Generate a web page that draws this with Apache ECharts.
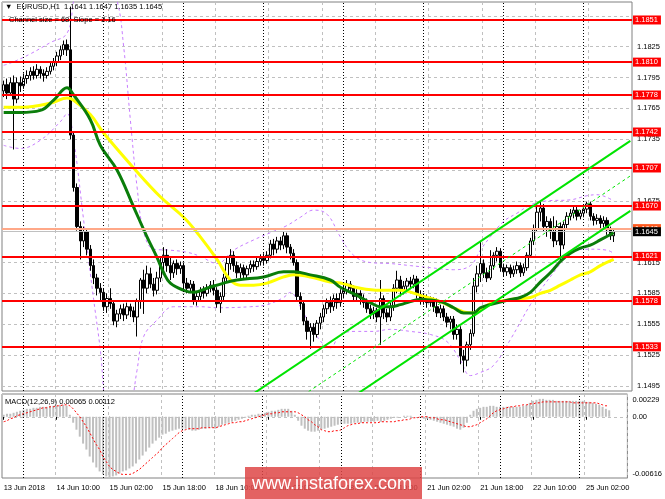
<!DOCTYPE html>
<html><head><meta charset="utf-8">
<script src="https://cdn.jsdelivr.net/npm/echarts@6/dist/echarts.min.js"></script>
<style>html,body{margin:0;padding:0;background:#fff}#c{width:665px;height:499px}</style>
</head><body><div id="c"></div>
<script>
// ---------- DATA ----------
const tradingDays = [['13 Jun',18,23],['14 Jun',0,23],['15 Jun',0,23],['18 Jun',0,23],['19 Jun',0,23],['20 Jun',0,23],['21 Jun',0,23],['22 Jun',0,23],['25 Jun',0,9]];
const emptySlots = 5;
const xTickLabels = ['13 Jun 2018','14 Jun 10:00','15 Jun 02:00','15 Jun 18:00','18 Jun 10:00','19 Jun 02:00','19 Jun 18:00','20 Jun 10:00','21 Jun 02:00','21 Jun 18:00','22 Jun 10:00','25 Jun 02:00'];
const daySeparators = [6,30,54,78,102,126,150,174];
const yGridTicks = [1.1495,1.1525,1.1555,1.1585,1.1615,1.1645,1.1675,1.1705,1.1735,1.1765,1.1795,1.1825,1.1855];
const yTickLabels = [1.1495,1.1525,1.1555,1.1585,1.1615,1.1645,1.1675,1.1705,1.1735,1.1765,1.1795,1.1825];
const levels = [1.1851,1.1810,1.1778,1.1742,1.1707,1.1670,1.1621,1.1578,1.1533];
const bidPrice = 1.1645;
const askPrice = 1.1648;
const macdTicks = [0.00229,0,-0.00616];

// [open, close, low, high]
const ohlc = [
[1.1782,1.1788,1.1776,1.1792],[1.1788,1.1780,1.1774,1.1794],[1.1780,1.1790,1.1777,1.1795],[1.1790,1.1774,1.1725,1.1797],
[1.1774,1.1790,1.1770,1.1795],[1.1790,1.1787,1.1781,1.1796],[1.1787,1.1794,1.1784,1.1799],[1.1794,1.1797,1.1789,1.1802],
[1.1797,1.1801,1.1792,1.1805],[1.1801,1.1797,1.1793,1.1806],[1.1797,1.1803,1.1794,1.1808],[1.1803,1.1799,1.1794,1.1806],
[1.1799,1.1797,1.1791,1.1803],[1.1797,1.1801,1.1794,1.1805],[1.1801,1.1806,1.1798,1.1810],[1.1806,1.1810,1.1802,1.1814],
[1.1810,1.1816,1.1806,1.1820],[1.1816,1.1822,1.1812,1.1826],[1.1822,1.1827,1.1817,1.1831],[1.1827,1.1822,1.1816,1.1832],
[1.1822,1.1739,1.1735,1.1864],[1.1739,1.1688,1.1684,1.1742],[1.1688,1.1650,1.1646,1.1692],[1.1650,1.1636,1.1618,1.1655],
[1.1636,1.1645,1.1630,1.1650],[1.1645,1.1628,1.1622,1.1648],[1.1628,1.1612,1.1607,1.1632],[1.1612,1.1600,1.1594,1.1618],
[1.1600,1.1590,1.1583,1.1604],[1.1590,1.1586,1.1578,1.1595],[1.1586,1.1572,1.1568,1.1590],[1.1572,1.1580,1.1566,1.1585],
[1.1580,1.1575,1.1570,1.1590],[1.1575,1.1558,1.1554,1.1578],[1.1558,1.1565,1.1552,1.1569],[1.1565,1.1570,1.1560,1.1574],
[1.1570,1.1564,1.1558,1.1575],[1.1564,1.1572,1.1560,1.1576],[1.1572,1.1568,1.1562,1.1575],[1.1568,1.1562,1.1557,1.1572],
[1.1562,1.1578,1.1543,1.1580],[1.1578,1.1598,1.1570,1.1600],[1.1598,1.1590,1.1565,1.1608],[1.1590,1.1604,1.1585,1.1612],
[1.1604,1.1594,1.1590,1.1610],[1.1594,1.1588,1.1582,1.1600],[1.1588,1.1600,1.1584,1.1606],[1.1600,1.1615,1.1596,1.1620],
[1.1615,1.1622,1.1605,1.1630],[1.1622,1.1612,1.1606,1.1628],[1.1612,1.1605,1.1598,1.1620],[1.1605,1.1614,1.1600,1.1617],
[1.1614,1.1609,1.1603,1.1618],[1.1609,1.1612,1.1604,1.1616],[1.1612,1.1595,1.1590,1.1615],[1.1595,1.1590,1.1585,1.1600],
[1.1590,1.1594,1.1586,1.1598],[1.1594,1.1578,1.1574,1.1597],[1.1578,1.1582,1.1573,1.1586],[1.1582,1.1588,1.1578,1.1591],
[1.1588,1.1585,1.1580,1.1592],[1.1585,1.1590,1.1582,1.1594],[1.1590,1.1593,1.1586,1.1597],[1.1593,1.1588,1.1583,1.1598],
[1.1588,1.1575,1.1571,1.1591],[1.1575,1.1582,1.1566,1.1586],[1.1582,1.1600,1.1578,1.1604],[1.1600,1.1614,1.1597,1.1620],
[1.1614,1.1622,1.1608,1.1628],[1.1622,1.1612,1.1606,1.1626],[1.1612,1.1605,1.1600,1.1616],[1.1605,1.1610,1.1600,1.1614],
[1.1610,1.1603,1.1598,1.1613],[1.1603,1.1609,1.1600,1.1612],[1.1609,1.1613,1.1605,1.1617],[1.1613,1.1611,1.1606,1.1617],
[1.1611,1.1616,1.1608,1.1620],[1.1616,1.1619,1.1612,1.1623],[1.1619,1.1617,1.1612,1.1624],[1.1617,1.1622,1.1614,1.1626],
[1.1622,1.1633,1.1619,1.1637],[1.1633,1.1628,1.1622,1.1638],[1.1628,1.1636,1.1624,1.1640],[1.1636,1.1632,1.1627,1.1640],
[1.1632,1.1641,1.1628,1.1645],[1.1641,1.1630,1.1624,1.1644],[1.1630,1.1624,1.1618,1.1633],[1.1624,1.1615,1.1612,1.1628],
[1.1615,1.1582,1.1578,1.1618],[1.1582,1.1575,1.1569,1.1586],[1.1575,1.1558,1.1554,1.1578],[1.1558,1.1548,1.1540,1.1562],
[1.1548,1.1552,1.1531,1.1556],[1.1552,1.1545,1.1538,1.1556],[1.1545,1.1556,1.1542,1.1559],[1.1556,1.1562,1.1550,1.1566],
[1.1562,1.1570,1.1557,1.1574],[1.1570,1.1576,1.1565,1.1580],[1.1576,1.1572,1.1566,1.1582],[1.1572,1.1580,1.1568,1.1584],
[1.1580,1.1576,1.1570,1.1585],[1.1576,1.1585,1.1572,1.1589],[1.1585,1.1588,1.1580,1.1593],[1.1588,1.1594,1.1584,1.1598],
[1.1594,1.1590,1.1585,1.1597],[1.1590,1.1582,1.1577,1.1593],[1.1582,1.1585,1.1578,1.1589],[1.1585,1.1580,1.1574,1.1588],
[1.1580,1.1576,1.1571,1.1584],[1.1576,1.1570,1.1566,1.1580],[1.1570,1.1565,1.1560,1.1574],[1.1565,1.1568,1.1560,1.1572],
[1.1568,1.1562,1.1557,1.1571],[1.1562,1.1580,1.1535,1.1598],[1.1580,1.1566,1.1560,1.1583],[1.1566,1.1562,1.1557,1.1570],
[1.1562,1.1572,1.1558,1.1576],[1.1572,1.1590,1.1568,1.1594],[1.1590,1.1598,1.1585,1.1607],[1.1598,1.1588,1.1582,1.1602],
[1.1588,1.1592,1.1584,1.1597],[1.1592,1.1597,1.1588,1.1600],[1.1597,1.1594,1.1589,1.1601],[1.1594,1.1599,1.1590,1.1603],
[1.1599,1.1584,1.1580,1.1602],[1.1584,1.1578,1.1574,1.1588],[1.1578,1.1581,1.1574,1.1585],[1.1581,1.1576,1.1571,1.1584],
[1.1576,1.1578,1.1572,1.1582],[1.1578,1.1572,1.1567,1.1581],[1.1572,1.1566,1.1562,1.1580],[1.1566,1.1570,1.1561,1.1574],
[1.1570,1.1562,1.1558,1.1573],[1.1562,1.1557,1.1552,1.1566],[1.1557,1.1560,1.1550,1.1563],[1.1560,1.1545,1.1540,1.1563],
[1.1545,1.1550,1.1540,1.1555],[1.1550,1.1524,1.1516,1.1553],[1.1524,1.1520,1.1508,1.1530],[1.1520,1.1535,1.1514,1.1538],
[1.1535,1.1546,1.1530,1.1550],[1.1546,1.1592,1.1543,1.1600],[1.1592,1.1604,1.1586,1.1612],[1.1604,1.1614,1.1596,1.1636],
[1.1614,1.1605,1.1600,1.1618],[1.1605,1.1600,1.1596,1.1610],[1.1600,1.1612,1.1598,1.1627],[1.1612,1.1622,1.1608,1.1625],
[1.1622,1.1626,1.1616,1.1630],[1.1626,1.1610,1.1606,1.1629],[1.1610,1.1606,1.1601,1.1614],[1.1606,1.1610,1.1602,1.1613],
[1.1610,1.1604,1.1600,1.1613],[1.1604,1.1608,1.1601,1.1612],[1.1608,1.1612,1.1604,1.1616],[1.1612,1.1605,1.1601,1.1615],
[1.1605,1.1610,1.1602,1.1614],[1.1610,1.1622,1.1607,1.1625],[1.1622,1.1636,1.1620,1.1639],[1.1636,1.1648,1.1632,1.1652],
[1.1648,1.1664,1.1645,1.1670],[1.1664,1.1668,1.1655,1.1675],[1.1668,1.1650,1.1645,1.1672],[1.1650,1.1655,1.1640,1.1660],
[1.1655,1.1645,1.1638,1.1658],[1.1645,1.1636,1.1630,1.1660],[1.1636,1.1650,1.1632,1.1656],[1.1650,1.1632,1.1617,1.1654],
[1.1632,1.1652,1.1628,1.1655],[1.1652,1.1660,1.1648,1.1664],[1.1660,1.1663,1.1656,1.1667],[1.1663,1.1666,1.1658,1.1669],
[1.1666,1.1660,1.1656,1.1669],[1.1660,1.1663,1.1657,1.1666],[1.1663,1.1667,1.1659,1.1670],[1.1667,1.1672,1.1663,1.1674],
[1.1672,1.1660,1.1656,1.1674],[1.1660,1.1656,1.1651,1.1663],[1.1656,1.1658,1.1652,1.1662],[1.1658,1.1653,1.1648,1.1661],
[1.1653,1.1656,1.1649,1.1660],[1.1656,1.1647,1.1642,1.1659],[1.1647,1.1641,1.1637,1.1650],[1.1641,1.1645,1.1635,1.1647]
];

// moving averages read at [bar, price]
const maGreen = [[0,1.1761],[5,1.1761],[11,1.1763],[15,1.1773],[19,1.1785],[21,1.1778],[26,1.1754],[29,1.1729],[34,1.1705],[39,1.1669],[43,1.1640],[46,1.1620],[48,1.1605],[50,1.1595],[54,1.1588],[57,1.1586],[61,1.1590],[66,1.1595],[70,1.1598],[78,1.1601],[84,1.1606],[87,1.1606],[92,1.1603],[98,1.1598],[101,1.1591],[106,1.1583],[110,1.1576],[113,1.1572],[116,1.1572],[119,1.1574],[122,1.1577],[125,1.1579],[131,1.1577],[135,1.1571],[138,1.1566],[141,1.1566],[143,1.1571],[146,1.1574],[152,1.1579],[155,1.1581],[158,1.1586],[161,1.1596],[164,1.1605],[167,1.1616],[170,1.1624],[173,1.1629],[176,1.1632],[179,1.1637],[183,1.1644]];
const maYellow = [[0,1.1766],[5,1.1766],[11,1.1768],[15,1.1771],[19,1.1775],[21,1.1773],[26,1.1759],[30,1.1741],[39,1.1707],[47,1.1679],[54,1.1659],[59,1.1640],[64,1.1618],[68,1.1598],[71,1.1593],[75,1.1593],[79,1.1595],[84,1.1601],[87,1.1603],[92,1.1601],[98,1.1596],[101,1.1595],[107,1.1590],[113,1.1588],[119,1.1588],[125,1.1583],[131,1.1577],[135,1.1571],[138,1.1567],[141,1.1566],[143,1.1569],[146,1.1575],[152,1.1579],[158,1.1581],[161,1.1585],[164,1.1588],[167,1.1593],[170,1.1598],[173,1.1603],[176,1.1606],[179,1.1612],[183,1.1618]];
const bbUpper = [[0,1.1807],[2,1.1809],[8,1.1818],[14,1.1829],[19,1.1838],[21,1.1870],[23,1.1900],[30,1.1900],[34,1.1870],[36,1.1825],[38,1.1754],[40,1.1689],[42,1.1645],[45,1.1628],[50,1.1627],[55,1.1625],[59,1.1621],[64,1.1614],[69,1.1627],[75,1.1637],[80,1.1644],[85,1.1651],[89,1.1659],[93,1.1666],[97,1.1662],[101,1.1640],[105,1.1622],[110,1.1615],[116,1.1614],[122,1.1612],[128,1.1610],[135,1.1608],[140,1.1612],[143,1.1627],[146,1.1640],[150,1.1655],[154,1.1663],[158,1.1671],[163,1.1675],[170,1.1676],[175,1.1680],[178,1.1681],[183,1.1675]];
const bbLower = [[0,1.1729],[5,1.1726],[11,1.1734],[17,1.1752],[19,1.1760],[21,1.1734],[24,1.1656],[27,1.1579],[29,1.1530],[31,1.1470],[35,1.1440],[38,1.1470],[40,1.1510],[42,1.1543],[46,1.1559],[51,1.1572],[59,1.1572],[64,1.1571],[74,1.1572],[79,1.1574],[84,1.1581],[86,1.1586],[89,1.1572],[94,1.1543],[98,1.1532],[101,1.1545],[106,1.1548],[111,1.1548],[116,1.1550],[122,1.1548],[128,1.1545],[133,1.1538],[137,1.1520],[140,1.1505],[143,1.1508],[147,1.1515],[152,1.1540],[158,1.1574],[161,1.1588],[167,1.1614],[170,1.1626],[176,1.1628],[181,1.1627],[183,1.1624]];
// regression channel endpoints [bar, price]
const chanUpper = [[75,1.14876],[188,1.17333]];
const chanMiddle = [[75,1.14536],[188,1.16993]];
const chanLower = [[75,1.14196],[188,1.16653]];

const macdHist = [0.0002,0.0003,0.0003,0.0004,0.0005,0.0006,0.0007,0.0008,0.0008,0.0009,
0.0009,0.0010,0.0010,0.0010,0.0011,0.0011,0.0011,0.0012,0.0012,0.0011,
0.0002,-0.0006,-0.0013,-0.0020,-0.0027,-0.0033,-0.0040,-0.0046,-0.0051,-0.0055,
-0.0058,-0.0060,-0.0061,-0.0060,-0.0059,-0.0057,-0.0055,-0.0054,-0.0052,-0.0050,
-0.0047,-0.0043,-0.0039,-0.0035,-0.0031,-0.0027,-0.0024,-0.0021,-0.0018,-0.0017,
-0.0015,-0.0014,-0.0013,-0.0012,-0.0012,-0.0012,-0.0013,-0.0014,-0.0014,-0.0013,
-0.0012,-0.0012,-0.0011,-0.0011,-0.0012,-0.0010,-0.0008,-0.0007,-0.0006,-0.0005,
-0.0004,-0.0003,-0.0002,-0.0001,0.0001,0.0002,0.0002,0.0003,0.0003,0.0004,
0.0005,0.0006,0.0006,0.0007,0.0008,0.0008,0.0008,0.0006,0.0002,-0.0004,
-0.0009,-0.0012,-0.0014,-0.0015,-0.0015,-0.0014,-0.0013,-0.0012,-0.0011,-0.0010,
-0.0009,-0.0008,-0.0007,-0.0007,-0.0007,-0.0007,-0.0006,-0.0006,-0.0006,-0.0005,
-0.0005,-0.0005,-0.0005,-0.0004,-0.0005,-0.0004,-0.0003,-0.0002,-0.0001,-0.0001,
0.0000,0.0001,0.0001,0.0001,0.0000,0.0000,-0.0001,-0.0002,-0.0002,-0.0003,
-0.0004,-0.0005,-0.0006,-0.0007,-0.0008,-0.0009,-0.0010,-0.0012,-0.0013,-0.0011,
-0.0006,0.0002,0.0006,0.0008,0.0009,0.0010,0.0010,0.0011,0.0011,0.0010,
0.0010,0.0010,0.0010,0.0010,0.0010,0.0010,0.0010,0.0011,0.0012,0.0014,
0.0016,0.0017,0.0018,0.0018,0.0017,0.0017,0.0017,0.0016,0.0016,0.0016,
0.0016,0.0016,0.0016,0.0016,0.0016,0.0016,0.0015,0.0015,0.0014,0.0013,
0.0012,0.0010,0.0008,0.00065];
const macdSignal = [-0.0005,-0.0004,-0.0002,-0.0001,0.0001,0.0002,0.0003,0.0004,0.0005,0.0006,
0.0007,0.0008,0.0009,0.0009,0.0010,0.0010,0.0011,0.0011,0.0012,0.0012,
0.0011,0.0008,0.0004,0.0000,-0.0005,-0.0010,-0.0016,-0.0022,-0.0028,-0.0033,
-0.0040,-0.0045,-0.0050,-0.0053,-0.0055,-0.0057,-0.0058,-0.0058,-0.0058,-0.0057,
-0.0055,-0.0053,-0.0050,-0.0047,-0.0044,-0.0041,-0.0038,-0.0035,-0.0031,-0.0028,
-0.0025,-0.0022,-0.0019,-0.0016,-0.0014,-0.0013,-0.0012,-0.0012,-0.0012,-0.0012,
-0.0011,-0.0011,-0.0011,-0.0011,-0.0011,-0.0010,-0.0009,-0.0008,-0.0007,-0.0006,
-0.0006,-0.0005,-0.0005,-0.0004,-0.0003,-0.0002,-0.0001,0.0000,0.0001,0.0002,
0.0003,0.0003,0.0004,0.0004,0.0005,0.0005,0.0005,0.0005,0.0005,0.0004,
0.0002,0.0000,-0.0003,-0.0005,-0.0008,-0.0010,-0.0013,-0.0014,-0.0015,-0.0015,
-0.0014,-0.0014,-0.0013,-0.0011,-0.0009,-0.0008,-0.0007,-0.0007,-0.0006,-0.0006,
-0.0006,-0.0006,-0.0006,-0.0006,-0.0005,-0.0005,-0.0005,-0.0005,-0.0005,-0.0004,
-0.0004,-0.0003,-0.0003,-0.0002,-0.0001,-0.0001,0.0000,0.0000,0.0000,-0.0001,
-0.0001,-0.0002,-0.0003,-0.0003,-0.0004,-0.0005,-0.0006,-0.0007,-0.0008,-0.0009,
-0.0010,-0.0010,-0.0009,-0.0008,-0.0006,-0.0004,-0.0002,0.0001,0.0004,0.0006,
0.0007,0.0008,0.0009,0.0010,0.0010,0.0011,0.0011,0.0012,0.0012,0.0013,
0.0013,0.0014,0.0014,0.0015,0.0015,0.0015,0.0015,0.0015,0.0015,0.0015,
0.0015,0.0015,0.0014,0.0014,0.0014,0.0014,0.0014,0.0014,0.0014,0.0014,
0.0013,0.0012,0.0011,0.00112];

// ---------- BUILD ----------
const categories = [];
tradingDays.forEach(([d, h0, h1]) => { for (let h = h0; h <= h1; h++) categories.push(d + ' ' + String(h).padStart(2,'0') + ':00'); });
for (let k = 0; k < emptySlots; k++) categories.push('pad' + k);

const FONT = '"Liberation Sans", "DejaVu Sans", Arial, sans-serif';
const FS = 7.5;
const labelEvery = 16;
const isLabelTick = (i) => i % labelEvery === 0 && i < ohlc.length;

const chart = echarts.init(document.getElementById('c'), null, {renderer: 'canvas'});

function hLines(values, color, width, labelBg, z) {
  return {
    type: 'line', xAxisIndex: 0, yAxisIndex: 0, data: [], z: z, silent: true,
    markLine: {
      silent: true, symbol: ['none','none'], animation: false, precision: 5,
      lineStyle: {color: color, width: width, type: 'solid'},
      label: {show: true, position: 'end', distance: 1, formatter: p => Number(p.value).toFixed(4),
        color: '#fff', backgroundColor: labelBg, padding: [1,3,0,2], fontSize: FS, fontFamily: FONT},
      data: values.map(v => ({yAxis: v}))
    }
  };
}

const sepMark = {
  silent: true, symbol: ['none','none'], animation: false,
  lineStyle: {color: '#000', width: 1, type: [1,2]},
  label: {show: false},
  data: daySeparators.map(i => ({xAxis: i}))
};

const macdLabelFmt = (v) => {
  if (v === 0) return '0.00';
  if (v > 0) return '{top|' + v.toFixed(5) + '}';
  return '{bot|' + v.toFixed(5) + '}';
};

const option = {
  animation: false,
  backgroundColor: '#fff',
  textStyle: {fontFamily: FONT},
  grid: [
    {left: 2, top: 2, width: 630, height: 389, show: true, borderColor: '#808080', borderWidth: 1, backgroundColor: '#fff'},
    {left: 2, top: 394, width: 630, height: 84, show: true, borderColor: '#808080', borderWidth: 1, backgroundColor: '#fff'}
  ],
  xAxis: [
    {type: 'category', gridIndex: 0, data: categories, boundaryGap: true,
     axisLine: {show: false}, axisTick: {show: false}, axisLabel: {show: false},
     splitLine: {show: true, interval: (i) => isLabelTick(i), lineStyle: {color: '#c0c0c0', width: 1, type: [3,3]}}},
    {type: 'category', gridIndex: 1, data: categories, boundaryGap: true,
     axisLine: {show: false},
     axisTick: {show: true, interval: (i) => isLabelTick(i), alignWithLabel: true, length: 3, lineStyle: {color: '#000'}},
     axisLabel: {show: true, interval: (i) => isLabelTick(i), formatter: (v, i) => xTickLabels[i / labelEvery],
       align: 'left', color: '#000', fontSize: FS, fontFamily: FONT, margin: 6},
     splitLine: {show: true, interval: (i) => isLabelTick(i), lineStyle: {color: '#c0c0c0', width: 1, type: [3,3]}}}
  ],
  yAxis: [
    {type: 'value', gridIndex: 0, position: 'right', min: 1.1490, max: 1.18685,
     axisLine: {show: false},
     axisTick: {show: false, customValues: yGridTicks},
     axisLabel: {customValues: yTickLabels, formatter: v => v.toFixed(4), color: '#000', fontSize: FS, fontFamily: FONT, margin: 5},
     splitLine: {show: true, lineStyle: {color: '#c0c0c0', width: 1, type: [3,3]}}},
    {type: 'value', gridIndex: 1, position: 'right', min: -0.00616, max: 0.00229,
     axisLine: {show: false},
     axisTick: {show: false, customValues: macdTicks},
     axisLabel: {customValues: macdTicks, formatter: macdLabelFmt, color: '#000', fontSize: FS, fontFamily: FONT, margin: 5,
       rich: {top: {fontSize: FS, fontFamily: FONT, color: '#000', padding: [12,0,0,0]},
              bot: {fontSize: FS, fontFamily: FONT, color: '#000', padding: [0,0,8,0]}}},
     splitLine: {show: true, lineStyle: {color: '#c0c0c0', width: 1, type: [3,3]}}}
  ],
  series: [
    {type: 'candlestick', xAxisIndex: 0, yAxisIndex: 0, data: ohlc, barWidth: 3, z: 3,
     itemStyle: {color: '#fff', color0: '#000', borderColor: '#000', borderColor0: '#000', borderWidth: 1},
     markLine: sepMark},
    {type: 'line', xAxisIndex: 0, yAxisIndex: 0, data: bbUpper, smooth: 0.4, symbol: 'none', z: 2,
     lineStyle: {color: '#c77dff', width: 1, type: [3,3]}},
    {type: 'line', xAxisIndex: 0, yAxisIndex: 0, data: bbLower, smooth: 0.4, symbol: 'none', z: 2,
     lineStyle: {color: '#c77dff', width: 1, type: [3,3]}},
    {type: 'line', xAxisIndex: 0, yAxisIndex: 0, data: maYellow, smooth: 0.4, symbol: 'none', z: 4,
     lineStyle: {color: '#ffff00', width: 3}},
    {type: 'line', xAxisIndex: 0, yAxisIndex: 0, data: maGreen, smooth: 0.4, symbol: 'none', z: 4,
     lineStyle: {color: '#0a7d0a', width: 3}},
    {type: 'line', xAxisIndex: 0, yAxisIndex: 0, data: chanUpper, symbol: 'none', z: 5,
     lineStyle: {color: '#00e400', width: 2}},
    {type: 'line', xAxisIndex: 0, yAxisIndex: 0, data: chanMiddle, symbol: 'none', z: 5,
     lineStyle: {color: '#00e400', width: 1, type: [3,3]}},
    {type: 'line', xAxisIndex: 0, yAxisIndex: 0, data: chanLower, symbol: 'none', z: 5,
     lineStyle: {color: '#00e400', width: 2}},
    hLines(levels, '#ff0000', 2, '#ff0000', 6),
    hLines([askPrice], '#ffa888', 2, '#ff5a1f', 6),
    hLines([bidPrice], '#c0c0c0', 1, '#000000', 7),
    {type: 'bar', xAxisIndex: 1, yAxisIndex: 1, data: macdHist, barWidth: 2, z: 2,
     itemStyle: {color: '#c0c0c0'}, markLine: sepMark},
    {type: 'line', xAxisIndex: 1, yAxisIndex: 1, data: macdSignal, symbol: 'none', smooth: 0.3, z: 3,
     lineStyle: {color: '#ff0000', width: 1, type: [2,2]}}
  ],
  graphic: [
    {type: 'text', left: 5, top: 3, z: 100, style: {text: '\u25BC  EURUSD,H1  1.1641 1.1647 1.1635 1.1645', fontSize: FS, fontFamily: FONT, fill: '#000'}},
    {type: 'text', left: 9, top: 16, z: 100, style: {text: 'Channel size = 68, Slope = 2.16', fontSize: FS, fontFamily: FONT, fill: '#000'}},
    {type: 'text', left: 5, top: 398, z: 100, style: {text: 'MACD(12,26,9) 0.00065 0.00112', fontSize: FS, fontFamily: FONT, fill: '#000'}},
    {type: 'rect', left: 245, top: 467, z: 100, shape: {width: 177, height: 32}, style: {fill: 'rgba(222,70,70,0.85)'}},
    {type: 'text', left: 252, top: 475, z: 101, style: {text: 'www.instaforex.com', fontSize: 18, fontFamily: FONT, fill: '#fff'}}
  ]
};
chart.setOption(option);
</script></body></html>
